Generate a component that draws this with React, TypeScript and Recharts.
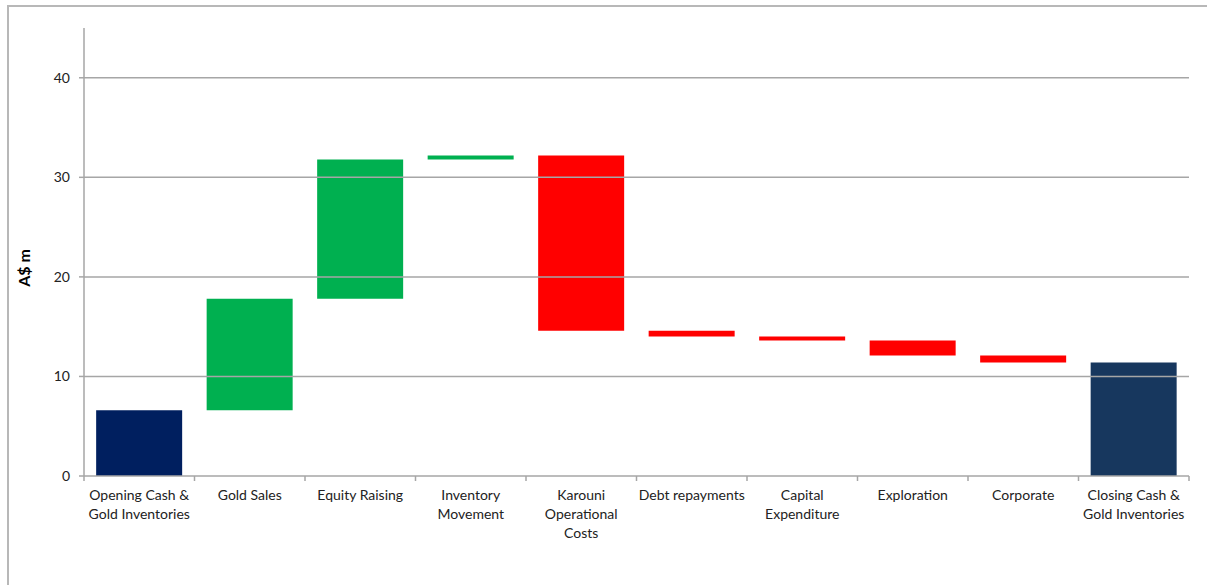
import { BarChart, Bar, XAxis, YAxis, ReferenceLine, Cell } from "recharts"

const categories = [
  "Opening Cash &\nGold Inventories",
  "Gold Sales",
  "Equity Raising",
  "Inventory\nMovement",
  "Karouni\nOperational\nCosts",
  "Debt repayments",
  "Capital\nExpenditure",
  "Exploration",
  "Corporate",
  "Closing Cash &\nGold Inventories",
]

// bottom and top of each floating bar (A$ m)
const lows = [0, 6.6, 17.8, 31.8, 14.6, 14.0, 13.6, 12.1, 11.4, 0]
const highs = [6.6, 17.8, 31.8, 32.2, 32.2, 14.6, 14.0, 13.6, 12.1, 11.4]
const colors = [
  "#001F5F", "#00B050", "#00B050", "#00B050", "#FF0000",
  "#FF0000", "#FF0000", "#FF0000", "#FF0000", "#17375E",
]
const yTicks = [0, 10, 20, 30, 40]

const data = categories.map((name, i) => ({
  name,
  base: lows[i],
  size: highs[i] - lows[i],
}))

const W = 1207
const H = 585
const M = { top: 28, right: 18, left: 44, bottom: 29 }
const Y_W = 40
const X_H = 80
const band = (W - M.left - M.right - Y_W) / categories.length
const axisY = H - M.bottom - X_H

const font = "Lato, 'Open Sans', sans-serif"

function XTick(props: any) {
  const { x, payload, index } = props
  const lines = String(payload.value).split("\n")
  return (
    <g>
      <line x1={x - band / 2} x2={x - band / 2} y1={axisY} y2={axisY + 5} stroke="#A6A6A6" strokeWidth={1.5} />
      {index === categories.length - 1 && (
        <line x1={x + band / 2} x2={x + band / 2} y1={axisY} y2={axisY + 5} stroke="#A6A6A6" strokeWidth={1.5} />
      )}
      <text x={x} y={axisY} textAnchor="middle" fill="#222" fontSize={14} fontFamily={font}>
        {lines.map((l, i) => (
          <tspan key={i} x={x} dy={i === 0 ? 24 : 19}>
            {l}
          </tspan>
        ))}
      </text>
    </g>
  )
}

export default function App() {
  return (
    <div style={{ position: "absolute", left: 0, top: 0, width: W, height: H, background: "#fff", overflow: "hidden" }}>
      <div
        style={{
          position: "absolute",
          left: 7,
          top: 5,
          width: W + 20,
          height: H + 20,
          borderTop: "2px solid #B8B8B8",
          borderLeft: "2px solid #B8B8B8",
        }}
      />
      <BarChart
        width={W}
        height={H}
        data={data}
        margin={M}
        barCategoryGap="11%"
        style={{ position: "absolute", left: 0, top: 0 }}
      >
        {yTicks.slice(1).map((t) => (
          <ReferenceLine key={t} y={t} stroke="#A6A6A6" strokeWidth={1.5} />
        ))}
        <XAxis
          dataKey="name"
          interval={0}
          height={X_H}
          stroke="#A6A6A6"
          strokeWidth={1.5}
          tickLine={false}
          tick={<XTick />}
        />
        <YAxis
          width={Y_W}
          domain={[0, 45]}
          ticks={yTicks}
          allowDataOverflow
          stroke="#A6A6A6"
          strokeWidth={1.5}
          tickSize={5}
          tickMargin={9}
          tick={{ fill: "#222", fontSize: 14, fontFamily: font }}
          label={{
            content: () => (
              <text
                x={30}
                y={268}
                transform="rotate(-90, 30, 268)"
                textAnchor="middle"
                fontSize={16}
                fontWeight="bold"
                fill="#000"
                fontFamily={font}
              >
                A$ m
              </text>
            ),
          }}
        />
        <Bar dataKey="base" stackId="w" fill="transparent" isAnimationActive={false} />
        <Bar dataKey="size" stackId="w" isAnimationActive={false}>
          {data.map((_, i) => (
            <Cell key={i} fill={colors[i]} />
          ))}
        </Bar>
      </BarChart>
    </div>
  )
}
